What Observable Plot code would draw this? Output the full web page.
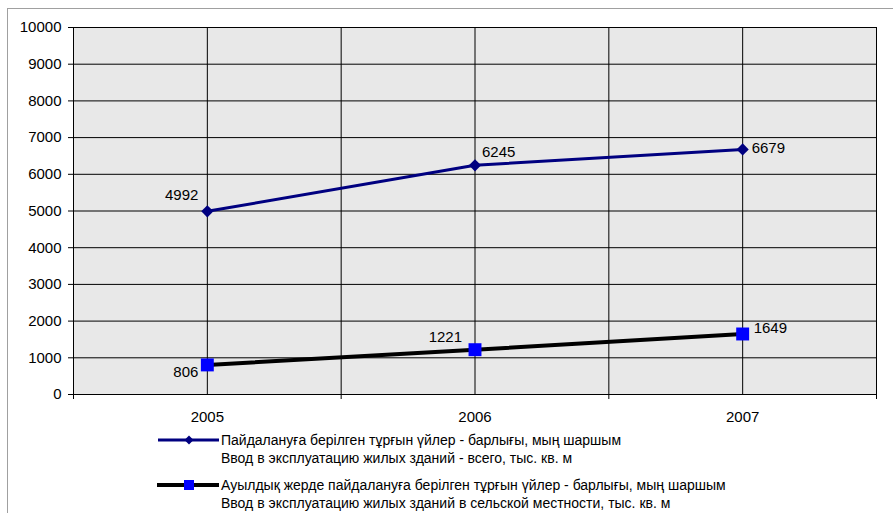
<!DOCTYPE html>
<html><head><meta charset="utf-8">
<script src="https://cdn.jsdelivr.net/npm/d3@7"></script>
<script src="https://cdn.jsdelivr.net/npm/@observablehq/plot@0.6"></script>
<style>
body{margin:0;width:893px;height:513px;overflow:hidden;background:#fff;font-family:Arial,"Liberation Sans",sans-serif;position:relative}
#border{position:absolute;left:7px;top:8px;width:1000px;height:1000px;border:1.5px solid #a0a0a0}
#chart{position:absolute;left:0;top:0}
#chart svg{background:transparent;overflow:visible}
.item{position:absolute;left:157px;display:flex;align-items:flex-start;font-size:14px;line-height:18px;color:#000;white-space:nowrap}
.item svg{flex:none;margin-top:3px;margin-right:2px}
</style></head>
<body>
<div id="border"></div>
<div id="chart"></div>
<div id="legend"></div>
<script>
const years = [2005, 2006, 2007];
const totalValues = [4992, 6245, 6679];
const ruralValues = [806, 1221, 1649];
const yTicks = [0, 1000, 2000, 3000, 4000, 5000, 6000, 7000, 8000, 9000, 10000];
const seriesLabels = [
  ["Пайдалануға берілген тұрғын үйлер - барлығы, мың шаршым", "Ввод в эксплуатацию жилых зданий - всего, тыс. кв. м"],
  ["Ауылдық жерде пайдалануға берілген тұрғын үйлер - барлығы, мың шаршым", "Ввод в эксплуатацию жилых зданий в сельской местности, тыс. кв. м"]
];

const total = years.map((y, i) => ({year: y, value: totalValues[i], i}));
const rural = years.map((y, i) => ({year: y, value: ruralValues[i], i}));
const gridX = years.flatMap(y => [y - 0.5, y]).concat([years[years.length - 1] + 0.5]);
const dividers = years.map(y => y - 0.5).concat([years[years.length - 1] + 0.5]);

// label placement (style)
const totalLab = [{dx:-9, dy:-16, a:"end"}, {dx:7, dy:-13, a:"start"}, {dx:9, dy:-1, a:"start"}];
const ruralLab = [{dx:-9, dy:7, a:"end"}, {dx:-13, dy:-13, a:"end"}, {dx:11, dy:-6, a:"start"}];
const labelMarks = (data, cfg) => data.map((d, k) => Plot.text([d], {
  x: "year", y: "value", text: d => String(d.value), dx: cfg[k].dx, dy: cfg[k].dy,
  textAnchor: cfg[k].a, fontSize: 15, fill: "black"
}));

const chart = Plot.plot({
  width: 893, height: 430,
  marginLeft: 73, marginRight: 17, marginTop: 27, marginBottom: 36,
  style: {fontFamily: "Arial, 'Liberation Sans', sans-serif", fontSize: "15px", color: "black"},
  x: {domain: [years[0] - 0.5, years[years.length - 1] + 0.5]},
  y: {domain: [0, 10000]},
  marks: [
    Plot.frame({fill: "#e8e8e8"}),
    Plot.ruleY(yTicks, {stroke: "black", strokeWidth: 1, strokeOpacity: 1}),
    Plot.ruleX(gridX, {stroke: "black", strokeWidth: 1, strokeOpacity: 1}),
    Plot.axisY({ticks: yTicks, tickSize: 5, tickPadding: 7, tickFormat: "d", fontSize: 15, label: null, strokeOpacity: 1}),
    Plot.axisX({ticks: dividers, tickSize: 5, tickFormat: () => "", label: null, strokeOpacity: 1}),
    Plot.axisX({ticks: years, tickSize: 0, tickPadding: 17, tickFormat: "d", fontSize: 15, label: null}),
    Plot.frame({stroke: "black", strokeWidth: 1}),
    Plot.line(total, {x: "year", y: "value", stroke: "#000080", strokeWidth: 3}),
    Plot.dot(total, {x: "year", y: "value", symbol: "diamond2", fill: "#000080", stroke: "none", r: 5.5}),
    Plot.line(rural, {x: "year", y: "value", stroke: "black", strokeWidth: 4}),
    Plot.dot(rural, {x: "year", y: "value", symbol: "square", fill: "#0000ff", stroke: "none", r: 7.3}),
    ...labelMarks(total, totalLab),
    ...labelMarks(rural, ruralLab)
  ]
});
document.getElementById("chart").appendChild(chart);

// legend
const legend = document.getElementById("legend");
const samples = [
  `<svg width="62" height="12"><line x1="1" y1="6" x2="62" y2="6" stroke="#000080" stroke-width="3"/><path d="M32 1.5 L36.5 6 L32 10.5 L27.5 6Z" fill="#000080"/></svg>`,
  `<svg width="62" height="12"><line x1="0" y1="6" x2="62" y2="6" stroke="black" stroke-width="4"/><rect x="27" y="1" width="10" height="10" fill="#0000ff"/></svg>`
];
const tops = [431, 476];
seriesLabels.forEach((lines, k) => {
  const div = document.createElement("div");
  div.className = "item";
  div.style.top = tops[k] + "px";
  div.innerHTML = samples[k] + `<div>${lines.join("<br>")}</div>`;
  legend.appendChild(div);
});
</script>
</body></html>
